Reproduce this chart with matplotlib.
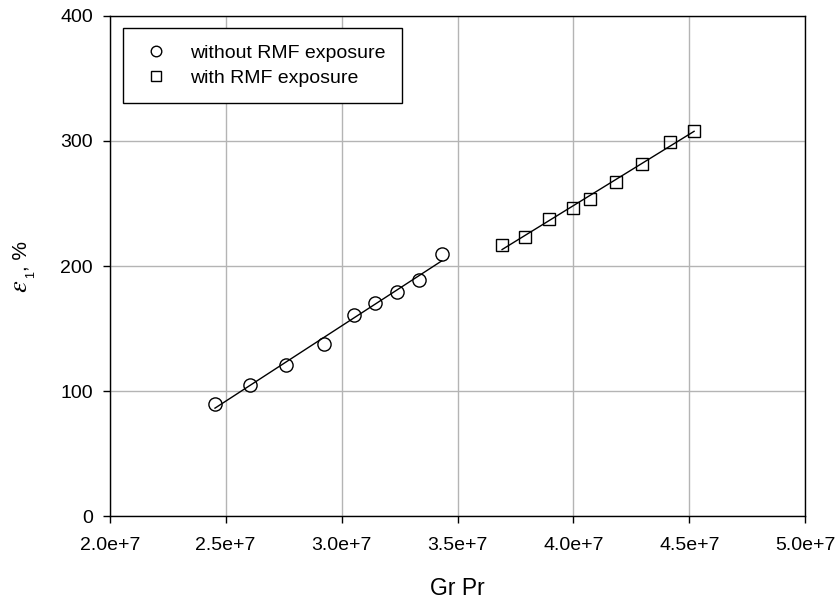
import numpy as np
import matplotlib
matplotlib.use('Agg')
import matplotlib.pyplot as plt
from matplotlib.ticker import FuncFormatter

plt.rcParams['font.family'] = ['Liberation Sans', 'DejaVu Sans']
plt.rcParams['mathtext.fontset'] = 'stix'

# measured points, Gr*Pr vs elongation
grpr_without = [2.454e7, 2.605e7, 2.759e7, 2.924e7, 3.052e7, 3.145e7, 3.237e7, 3.335e7, 3.432e7]
eps_without = [89.8, 104.8, 120.5, 137.6, 161.0, 170.4, 179.5, 188.8, 209.3]

grpr_with = [3.692e7, 3.791e7, 3.894e7, 4.000e7, 4.072e7, 4.182e7, 4.296e7, 4.414e7, 4.520e7]
eps_with = [216.8, 223.2, 237.6, 246.2, 253.4, 267.0, 281.9, 299.0, 308.3]

labels = ['without RMF exposure', 'with RMF exposure']
x_ticks = [2.0e7, 2.5e7, 3.0e7, 3.5e7, 4.0e7, 4.5e7, 5.0e7]
y_ticks = [0, 100, 200, 300, 400]

W, H = 838, 601
fig = plt.figure(figsize=(W / 100, H / 100), dpi=100)
ax = fig.add_axes([0.1309, 0.1414, 0.8302, 0.832])

# linear fits for each series
for x, y in [(grpr_without, eps_without), (grpr_with, eps_with)]:
    x = np.array(x)
    a, b = np.polyfit(x, y, 1)
    xx = np.array([x.min(), x.max()])
    ax.plot(xx, a * xx + b, color='black', lw=1.0, zorder=3)

ax.plot(grpr_without, eps_without, 'o', ms=9.5, mfc='none', mec='black', mew=1.0,
        label=labels[0], zorder=4)
ax.plot(grpr_with, eps_with, 's', ms=8.5, mfc='none', mec='black', mew=1.0,
        label=labels[1], zorder=4)

ax.set_xlim(2.0e7, 5.0e7)
ax.set_ylim(0, 400)
ax.set_xticks(x_ticks)
ax.set_yticks(y_ticks)
ax.xaxis.set_major_formatter(FuncFormatter(lambda v, p: f'{v / 1e7:.1f}e+7'))

ax.grid(True, color='#b4b4b4', lw=1.0)
ax.set_axisbelow(True)
for s in ax.spines.values():
    s.set_color('black')
    s.set_linewidth(1.0)
ax.tick_params(direction='out', length=5, width=1, labelsize=14)
ax.tick_params(axis='x', pad=10)
ax.tick_params(axis='y', pad=7)

ax.set_xlabel('Gr Pr', fontsize=16.5, labelpad=17)

# y label built from pieces so the epsilon can be larger than the rest
def ylab(px, py, s, size):
    fig.text(px / W, 1 - py / H, s, fontsize=size, rotation=90,
             rotation_mode='anchor', ha='left', va='baseline')

ylab(27, 293, r'$\varepsilon$', 19)
ylab(34, 278, '1', 9)
ylab(26, 271, ', %', 15)

leg = ax.legend(loc='upper left', bbox_to_anchor=(0.019, 0.976), fontsize=14,
                frameon=True, fancybox=False, edgecolor='black', framealpha=1,
                handletextpad=0.9, borderpad=0.85, borderaxespad=0, markerscale=0.8,
                handlelength=1.7, labelspacing=0.35)
leg.get_frame().set_linewidth(1.0)

fig.savefig('out.png', dpi=100)
